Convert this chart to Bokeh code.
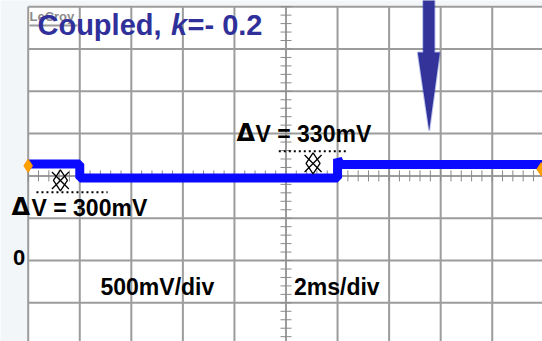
from bokeh.plotting import figure
from bokeh.models import Label, BoxAnnotation, PolyAnnotation, Range1d
from bokeh.embed import file_html
from bokeh.resources import INLINE

# ---------------- data ----------------
time_grid_ms = [0, 2, 4, 6, 8, 10, 12, 14, 16, 18, 20]          # 2 ms/div
volt_grid_v = [-1.0, -0.5, 0.0, 0.5, 1.0, 1.5, 2.0, 2.5, 3.0]    # 500 mV/div
step_times_ms = [0.0, 2.0, 12.0, 20.0]       # trace step edges
step_levels_v = [1.14, 0.975, 1.135]          # trace level between edges
overshoot_v = 1.2                             # spike at the step up
cursor_t_ms = [1.25, 11.05]                   # cursor symbols
cursor_v = [0.946, 1.147]
dotted_v = [0.807, 1.292]                     # dotted measurement lines
dotted_t0 = [0.32, 9.72]
dotted_t1 = [3.08, 12.32]
marker_t_ms = [0.0, 19.9]                     # orange channel markers
marker_v = [1.12, 1.08]

W, H = 542, 341
X0, X1 = -1.0745, 19.95
Y0, Y1 = -0.957, 3.073


def dx(px):
    return X0 + px * (X1 - X0) / W


def dy(py):
    return Y1 - py * (Y1 - Y0) / H


p = figure(width=W, height=H, x_range=Range1d(X0, X1), y_range=Range1d(Y0, Y1),
           toolbar_location=None, output_backend="svg",
           x_axis_location=None, y_axis_location=None, min_border=0)
p.grid.visible = False
p.outline_line_color = None
p.background_fill_color = "#f3f6f8"
p.border_fill_color = "#f3f6f8"

tmin, tmax = time_grid_ms[0], time_grid_ms[-1]
vmin, vmax = volt_grid_v[0], volt_grid_v[-1]
p.add_layout(BoxAnnotation(left=tmin, right=tmax, bottom=vmin, top=vmax,
                           fill_color="white", fill_alpha=1.0, line_color=None,
                           level="underlay"))

# grid
gc = "#9c9c9c"
p.segment(x0=time_grid_ms, y0=[vmin] * len(time_grid_ms), x1=time_grid_ms,
          y1=[vmax] * len(time_grid_ms), line_color=gc, line_width=2)
p.segment(x0=[tmin] * len(volt_grid_v), y0=volt_grid_v, x1=[tmax] * len(volt_grid_v),
          y1=volt_grid_v, line_color=gc, line_width=2)

# minor ticks on the centre lines
tc = time_grid_ms[len(time_grid_ms) // 2]
vc = volt_grid_v[len(volt_grid_v) // 2]
tdiv = time_grid_ms[1] - time_grid_ms[0]
vdiv = volt_grid_v[1] - volt_grid_v[0]
mt = [tmin + i * tdiv / 5 for i in range(int(round((tmax - tmin) / tdiv * 5)) + 1)]
mv = [vmin + i * vdiv / 5 for i in range(int(round((vmax - vmin) / vdiv * 5)) + 1)]
hv = 5.5 * (Y1 - Y0) / H
ht = 5.5 * (X1 - X0) / W
p.segment(x0=mt, y0=[vc - hv] * len(mt), x1=mt, y1=[vc + hv] * len(mt),
          line_color="#8a8a8a", line_width=1)
p.segment(x0=[tc - ht] * len(mv), y0=mv, x1=[tc + ht] * len(mv), y1=mv,
          line_color="#8a8a8a", line_width=1)

# trace
tx, ty = [], []
for i, lvl in enumerate(step_levels_v):
    a, b = step_times_ms[i], step_times_ms[i + 1]
    if i == 2:
        tx += [a, a + 0.1, b]
        ty += [overshoot_v, lvl, lvl]
    else:
        tx += [a, b]
        ty += [lvl, lvl]
p.line(tx, ty, line_color="#0a0aff", line_width=9, line_join="bevel")

# orange markers
p.scatter(marker_t_ms, marker_v, marker="diamond", size=13, fill_color="#ffa200",
          line_color="#ff9000")

# dotted measurement lines
for v, a, b in zip(dotted_v, dotted_t0, dotted_t1):
    p.line([a, b], [v, v], line_color="black", line_width=2, line_dash="2 3")

# cursor symbols
p.scatter(cursor_t_ms, cursor_v, marker="x", size=24, line_color="black", line_width=1.3)
p.scatter(cursor_t_ms, cursor_v, marker="diamond", size=21, fill_color=None,
          line_color="black", line_width=1.3)

# arrow
p.add_layout(PolyAnnotation(
    xs=[dx(422.7), dx(434), dx(434), dx(439.3), dx(428.7), dx(417.3), dx(422.7)],
    ys=[dy(-5), dy(-5), dy(52), dy(52), dy(130), dy(52), dy(52)],
    fill_color="#33339a", fill_alpha=1.0, line_color="#1c2ca8", line_width=2,
    level="overlay"))

FONT = "Liberation Sans"


def lab(px, py, text, size=23, color="black", style="bold", font=FONT):
    # py is the wanted alphabetic baseline in pixels; compensate renderer offset
    p.add_layout(Label(x=dx(px), y=dy(py - 0.43 * size), text=text, text_font=font,
                       text_font_size=f"{size}px", text_font_style=style,
                       text_color=color, text_baseline="alphabetic",
                       text_align="left"))


# LeCroy logo
lab(29, 22, "LeCroy", size=13, color="#8c8c8c")
p.add_layout(BoxAnnotation(left=dx(29), right=dx(77), bottom=dy(26), top=dy(24),
                           fill_color="#9a9a9a", fill_alpha=1.0, line_color=None))

# title
tcol = "#30309a"
lab(37, 37, "Coupled, ", size=29, color=tcol)
lab(170.5, 37, "k", size=29, color=tcol, style="bold italic")
lab(187, 37, "=- 0.2", size=29, color=tcol)

lab(11, 217, "\u0394", size=24, font="DejaVu Sans")
lab(31, 217, "V = 300mV", size=23)
lab(236, 143.3, "\u0394", size=24, font="DejaVu Sans")
lab(255, 143.3, "V = 330mV", size=23)
lab(12.5, 266.7, "0", size=22)
lab(100, 296, "500mV/div", size=23)
lab(293.5, 296, "2ms/div", size=23)

open("out.html", "w").write(file_html(p, INLINE))
